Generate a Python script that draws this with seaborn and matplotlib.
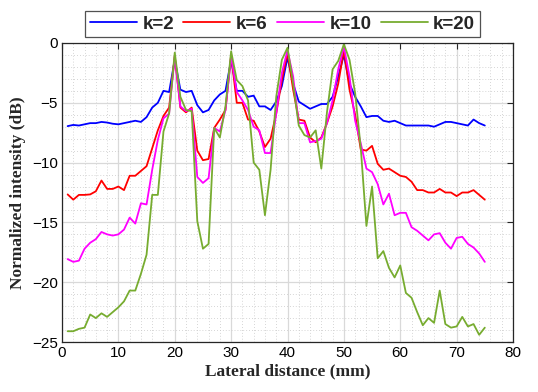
import numpy as np
import pandas as pd
import matplotlib
matplotlib.use("Agg")
import matplotlib.pyplot as plt
import seaborn as sns
from matplotlib.ticker import MultipleLocator

x_mm = list(range(1, 76))

k2 = [-6.95, -6.85, -6.9, -6.8, -6.7, -6.7, -6.6, -6.65, -6.75, -6.8,
      -6.7, -6.6, -6.5, -6.6, -6.2, -5.4, -5.0, -4.0, -4.1, -1.4,
      -3.9, -4.1, -4.0, -5.2, -5.8, -5.6, -4.8, -4.3, -4.0, -1.4,
      -4.0, -4.0, -4.5, -4.4, -5.3, -5.3, -5.6, -4.9, -3.6, -1.2,
      -3.4, -4.9, -5.2, -5.5, -5.3, -5.1, -5.1, -4.5, -2.8, -1.0,
      -3.4, -4.5, -5.3, -6.2, -6.1, -6.1, -6.5, -6.6, -6.5, -6.7,
      -6.9, -6.9, -6.9, -6.9, -6.9, -7.0, -6.8, -6.6, -6.6, -6.7,
      -6.8, -6.9, -6.4, -6.7, -6.9]

k6 = [-12.66, -13.1, -12.7, -12.7, -12.66, -12.4, -11.5, -12.2, -12.2, -12.0,
      -12.3, -11.1, -11.1, -10.7, -10.3, -8.8, -7.3, -6.1, -5.4, -1.1,
      -5.4, -5.8, -5.4, -9.0, -9.8, -9.7, -7.1, -6.4, -5.6, -1.0,
      -5.0, -5.0, -6.4, -6.5, -7.4, -8.7, -8.0, -5.9, -3.1, -0.8,
      -3.9, -6.4, -6.5, -7.9, -8.3, -7.9, -6.7, -5.3, -3.4, -0.6,
      -3.9, -6.0, -8.9, -9.0, -8.6, -10.1, -10.6, -10.5, -10.8, -11.1,
      -11.2, -11.6, -12.3, -12.3, -12.5, -12.5, -12.2, -12.5, -12.5, -12.8,
      -12.5, -12.5, -12.3, -12.7, -13.1]

k10 = [-18.07, -18.3, -18.2, -17.2, -16.7, -16.4, -15.8, -16.0, -16.1, -16.0,
       -15.6, -14.6, -15.1, -13.4, -13.5, -10.6, -8.1, -6.3, -5.9, -1.1,
       -5.3, -5.7, -5.5, -11.2, -11.7, -11.3, -7.1, -7.4, -5.6, -1.1,
       -4.1, -4.8, -5.6, -7.0, -7.3, -9.2, -9.2, -5.9, -2.5, -0.6,
       -2.8, -6.7, -6.7, -8.3, -8.2, -8.0, -6.7, -4.8, -2.2, -0.3,
       -2.8, -6.5, -8.4, -10.5, -10.8, -11.8, -13.5, -12.6, -14.4, -14.2,
       -14.2, -15.4, -15.7, -16.1, -16.5, -16.0, -15.9, -16.7, -17.2, -16.3,
       -16.2, -16.8, -17.1, -17.6, -18.3]

k20 = [-24.1, -24.1, -23.9, -23.8, -22.7, -23.0, -22.6, -22.9, -22.5, -22.1,
       -21.6, -20.7, -20.7, -19.3, -17.7, -12.7, -12.7, -7.4, -5.9, -0.8,
       -4.5, -5.6, -5.7, -14.9, -17.2, -16.8, -7.1, -7.9, -5.3, -0.7,
       -3.1, -3.6, -4.8, -10.0, -10.6, -14.4, -10.6, -4.5, -1.4, -0.4,
       -3.4, -6.9, -7.7, -7.9, -7.3, -10.5, -5.8, -2.2, -1.5, -0.1,
       -1.4, -4.2, -8.8, -15.3, -12.0, -18.0, -17.4, -18.8, -19.6, -18.6,
       -20.9, -21.3, -22.5, -23.6, -23.0, -23.4, -20.7, -23.5, -23.8, -23.7,
       -22.9, -23.7, -23.5, -24.4, -23.8]

labels = ["k=2", "k=6", "k=10", "k=20"]
colors = ["#0000FF", "#FF0000", "#FF00FF", "#77AC30"]

df = pd.concat([
    pd.DataFrame({"x": x_mm, "y": v, "k": lab})
    for v, lab in zip([k2, k6, k10, k20], labels)
], ignore_index=True)

sns.set_theme(style="white")
plt.rcParams["font.family"] = ["Liberation Sans", "DejaVu Sans"]

fig = plt.figure(figsize=(5.38, 3.92), dpi=100)
ax = fig.add_axes([62/538, 1-342/392, (513-62)/538, (342-43)/392])

sns.lineplot(data=df, x="x", y="y", hue="k", hue_order=labels,
             palette=dict(zip(labels, colors)), linewidth=1.3,
             ax=ax, legend=False, estimator=None, sort=False)

ax.set_xlim(0, 80)
ax.set_ylim(-25, 0)
ax.xaxis.set_major_locator(MultipleLocator(10))
ax.yaxis.set_major_locator(MultipleLocator(5))
ax.xaxis.set_minor_locator(MultipleLocator(2))
ax.yaxis.set_minor_locator(MultipleLocator(1))
ax.grid(True, which="major", color="#d9d9d9", linewidth=0.9, linestyle="-")
ax.grid(True, which="minor", color="#c8c8c8", linewidth=0.6, linestyle=(0, (1, 2.5)))
ax.set_axisbelow(True)
ax.tick_params(which="major", direction="in", length=4, width=0.8,
               top=True, right=True, labelsize=11, colors="#262626",
               labelcolor="black", pad=3)
ax.tick_params(which="minor", length=0, top=False, right=False)
for s in ax.spines.values():
    s.set_color("#262626")
    s.set_linewidth(0.9)

ax.set_xlabel("Lateral distance (mm)", fontsize=12.5, fontweight="bold",
              family=["Liberation Serif", "DejaVu Serif"], color="#262626", labelpad=2)
ax.set_ylabel("Normalized intensity (dB)", fontsize=12.5, fontweight="bold",
              family=["Liberation Serif", "DejaVu Serif"], color="#262626", labelpad=4)

from matplotlib.lines import Line2D
handles = [Line2D([0], [0], color=c, linewidth=1.3) for c in colors]
leg = fig.legend(handles, labels, ncol=4, loc="center",
                 bbox_to_anchor=(282.5/538, 1-24/392),
                 prop={"family": ["Liberation Sans", "DejaVu Sans"], "weight": "bold", "size": 13.5},
                 frameon=True, fancybox=False, handlelength=2.5, handletextpad=0.3,
                 columnspacing=0.5, borderpad=0.25, borderaxespad=0)
leg.get_frame().set_edgecolor("#262626")
leg.get_frame().set_linewidth(0.9)

fig.savefig("out.png", dpi=100)
